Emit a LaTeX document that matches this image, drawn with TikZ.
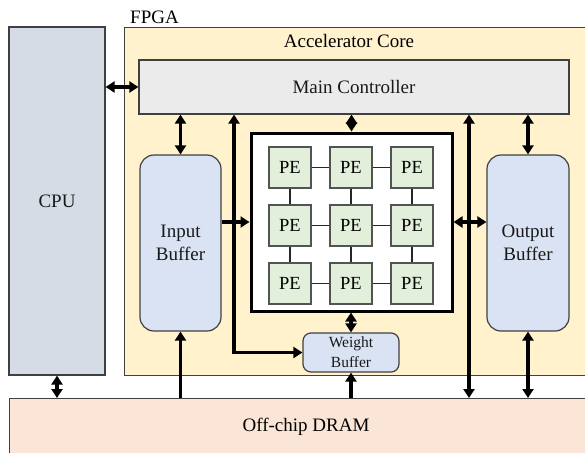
\documentclass[tikz,border=0pt]{standalone}
\usepackage{fontspec}
\setmainfont{Liberation Serif}
\usetikzlibrary{arrows.meta}
\definecolor{cpufill}{HTML}{D6DCE5}
\definecolor{corefill}{HTML}{FFF2CC}
\definecolor{ctrlfill}{HTML}{EBEBEB}
\definecolor{buffill}{HTML}{DAE3F3}
\definecolor{pefill}{HTML}{E2EFDA}
\definecolor{dramfill}{HTML}{FBE5D6}
\definecolor{edge}{HTML}{404040}
\tikzset{
  blk/.style={draw=edge, line width=1.2pt, inner sep=0pt, align=center,
    font=\fontsize{19}{23}\selectfont, text=black!90},
  buf/.style={blk, fill=buffill, rounded corners=14pt},
  pebox/.style={draw=edge!90, line width=1.2pt, fill=pefill, minimum width=42pt,
    minimum height=41pt, inner sep=0pt, font=\fontsize{18.5}{20}\selectfont},
  tip/.tip={Triangle[length=9pt,width=11pt]},
  bus/.style={line width=3.3pt, -tip},
  bibus/.style={line width=3.3pt, tip-tip},
  link/.style={line width=1.6pt, draw=black!85},
}
\begin{document}
\begin{tikzpicture}[x=1pt,y=-1pt]
\useasboundingbox (0,0) rectangle (585,452);

% host processor and the FPGA accelerator core
\node[blk, fill=cpufill, minimum width=96pt, minimum height=348pt] (cpu) at (57,201) {CPU};
\node[blk, fill=corefill, minimum width=480pt, minimum height=348pt, anchor=north west] (core) at (124,27) {};
\node[font=\fontsize{19}{23}\selectfont, anchor=base west, inner sep=0pt] (fpga) at (130,24) {FPGA};
\node[font=\fontsize{19}{23}\selectfont, inner sep=0pt] (corelbl) at (349,41) {Accelerator Core};

% controller and buffers
\node[blk, fill=ctrlfill, minimum width=430pt, minimum height=54pt] (mc) at (354,87) {Main Controller};
\node[buf, minimum width=81pt, minimum height=176pt] (ib) at (180.5,243) {Input\\Buffer};
\node[buf, minimum width=82pt, minimum height=176pt] (ob) at (528,243) {Output\\Buffer};
\node[buf, rounded corners=8pt, minimum width=96pt, minimum height=39pt,
  font=\fontsize{15.5}{20}\selectfont] (wb) at (351,352.5) {Weight\\Buffer};

% processing element array
\node[draw=black, line width=3pt, fill=white, minimum width=201pt, minimum height=178pt, inner sep=0pt] (arr) at (351.5,222) {};
\foreach \c/\x in {1/290,2/351,3/412}{
  \foreach \r/\y in {1/167.5,2/225.5,3/283.5}{
    \node[pebox] (pe\r\c) at (\x,\y) {PE};
  }
}
\foreach \r in {1,2,3}{
  \draw[link] (pe\r1) -- (pe\r2);
  \draw[link] (pe\r2) -- (pe\r3);
}
\foreach \c in {1,2,3}{
  \draw[link] (pe1\c) -- (pe2\c);
  \draw[link] (pe2\c) -- (pe3\c);
}

% off-chip memory
\node[blk, fill=dramfill, minimum width=595pt, minimum height=62pt, anchor=north west] (dram) at (9,398) {};
\node[font=\fontsize{19}{23}\selectfont, inner sep=0pt] (dramlbl) at (306,427) {Off-chip DRAM};

% data and control paths
\coordinate (xa) at (234,0);
\coordinate (xb) at (469,0);
\draw[bibus] (cpu.east |- mc.west) -- (mc.west);
\draw[bibus] (mc.south -| ib.north) -- (ib.north);
\draw[bibus] (mc.south -| xa) -- (xa |- wb.west) -- (wb.west);
\draw[bus] (ib.east |- arr.west) -- (arr.west);
\draw[bibus] (mc.south -| arr.north) -- (arr.north);
\draw[bibus] (arr.south -| wb.north) -- (wb.north);
\draw[bibus] (mc.south -| xb) -- (dram.north -| xb);
\draw[bibus] (arr.east) -- (arr.east -| ob.west);
\draw[bibus] (mc.south -| ob.north) -- (ob.north);
\draw[bibus] (cpu.south) -- (cpu.south |- dram.north);
\draw[bus] (ib.south |- dram.north) -- (ib.south);
\draw[bus] (wb.south |- dram.north) -- (wb.south);
\draw[bibus] (ob.south |- dram.north) -- (ob.south);
\end{tikzpicture}
\end{document}
